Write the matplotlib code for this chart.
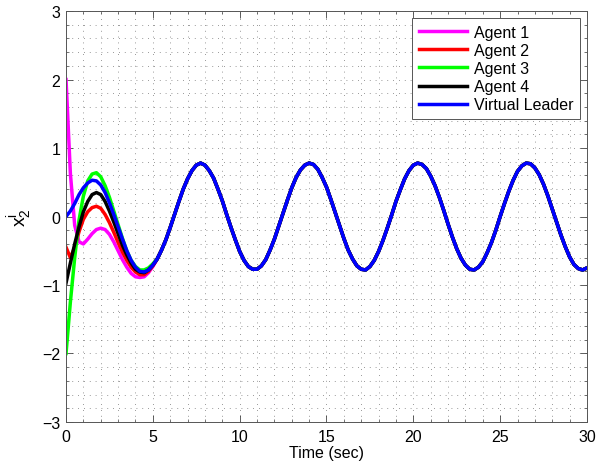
import numpy as np
import matplotlib
matplotlib.use('Agg')
import matplotlib.pyplot as plt
from matplotlib.ticker import MultipleLocator

plt.rcParams['font.family'] = ['Liberation Sans', 'DejaVu Sans']
plt.rcParams['mathtext.fontset'] = 'custom'
plt.rcParams['mathtext.rm'] = 'Liberation Sans'

# sample times (sec), every 0.25 s
time = np.linspace(0, 30, 121)

# virtual leader
leader = [0.00, 0.08, 0.19, 0.32, 0.42, 0.49, 0.53, 0.52, 0.46, 0.35,
          0.20, 0.03, -0.15, -0.33, -0.50, -0.64, -0.74, -0.80, -0.81, -0.78,
          -0.71, -0.62, -0.49, -0.34, -0.16, 0.03, 0.22, 0.40, 0.55, 0.67,
          0.75, 0.78, 0.75, 0.67, 0.56, 0.40, 0.23, 0.03, -0.16, -0.34,
          -0.51, -0.64, -0.73, -0.77, -0.77, -0.72, -0.63, -0.49, -0.33, -0.14,
          0.05, 0.24, 0.42, 0.57, 0.68, 0.75, 0.78, 0.76, 0.69, 0.57,
          0.43, 0.25, 0.06, -0.13, -0.32, -0.49, -0.62, -0.72, -0.77, -0.78,
          -0.73, -0.64, -0.51, -0.35, -0.17, 0.02, 0.22, 0.39, 0.55, 0.67,
          0.75, 0.78, 0.76, 0.70, 0.59, 0.45, 0.28, 0.09, -0.11, -0.30,
          -0.47, -0.61, -0.71, -0.77, -0.78, -0.74, -0.66, -0.53, -0.38, -0.20,
          0.00, 0.19, 0.37, 0.53, 0.66, 0.74, 0.78, 0.77, 0.71, 0.61,
          0.47, 0.30, 0.11, -0.08, -0.27, -0.44, -0.59, -0.70, -0.76, -0.78,
          -0.75]

# agents over the first 5 s (t = 0 .. 5); afterwards they track the leader
agent1_start = [2.00, 0.63, -0.13, -0.37, -0.40, -0.33, -0.25, -0.19, -0.17, -0.19,
                -0.26, -0.37, -0.50, -0.63, -0.74, -0.83, -0.88, -0.89, -0.88, -0.82,
                -0.73]
agent2_start = [-0.45, -0.60, -0.45, -0.22, -0.04, 0.07, 0.13, 0.15, 0.12, 0.03,
                -0.09, -0.23, -0.38, -0.52, -0.64, -0.74, -0.81, -0.85, -0.85, -0.80,
                -0.72]
agent3_start = [-2.00, -1.25, -0.60, -0.05, 0.30, 0.52, 0.62, 0.64, 0.58, 0.45,
                0.28, 0.08, -0.12, -0.32, -0.50, -0.64, -0.73, -0.78, -0.78, -0.75,
                -0.69]
agent4_start = [-0.97, -0.68, -0.40, -0.15, 0.07, 0.22, 0.32, 0.35, 0.32, 0.22,
                0.08, -0.08, -0.25, -0.42, -0.56, -0.68, -0.77, -0.81, -0.82, -0.78,
                -0.71]

labels = ['Agent 1', 'Agent 2', 'Agent 3', 'Agent 4', 'Virtual Leader']
colors = ['#ff00ff', '#ff0000', '#00ff00', '#000000', '#0000ff']
xticks = [0, 5, 10, 15, 20, 25, 30]
yticks = [-3, -2, -1, 0, 1, 2, 3]


def full_series(start):
    return list(start) + leader[len(start):]


series = [full_series(agent1_start), full_series(agent2_start),
          full_series(agent3_start), full_series(agent4_start), leader]

fig = plt.figure(figsize=(5.97, 4.64), dpi=100)
ax = fig.add_axes([0.1106, 0.0884, 0.8726, 0.8856])

for ys, lab, col in zip(series, labels, colors):
    ax.plot(time, ys, color=col, lw=2.5, label=lab)

ax.set_xlim(0, 30)
ax.set_ylim(-3, 3)
ax.set_xticks(xticks)
ax.set_xticklabels([str(v) for v in xticks])
ax.set_yticks(yticks)
ax.set_yticklabels([str(v).replace('-', '\u2212') for v in yticks])
ax.xaxis.set_minor_locator(MultipleLocator(1))
ax.yaxis.set_minor_locator(MultipleLocator(0.2))
ax.tick_params(which='both', direction='in', top=True, right=True,
               labelsize=11.5, color='#444444')
ax.tick_params(which='major', length=5, width=0.6)
ax.tick_params(axis='x', which='major', pad=5)
ax.tick_params(axis='y', which='major', pad=4)
ax.tick_params(which='minor', length=2.5, width=0.5)
ax.grid(which='both', color='#777777', linestyle=(0, (1, 6)), linewidth=0.6)
for sp in ax.spines.values():
    sp.set_linewidth(0.7)
    sp.set_color('#555555')

ax.set_xlabel('Time (sec)', fontsize=11.5, labelpad=1)
ax.set_ylabel(r'$\mathregular{x_2^i}$', fontsize=14, labelpad=6)

leg = ax.legend(loc='upper right', fontsize=11.5, handlelength=3.0,
                handletextpad=0.45, labelspacing=0.2, borderpad=0.4,
                borderaxespad=0.45, fancybox=False, framealpha=1)
leg.get_frame().set_edgecolor('#555555')
leg.get_frame().set_linewidth(0.7)

fig.savefig('out.png', dpi=100)
